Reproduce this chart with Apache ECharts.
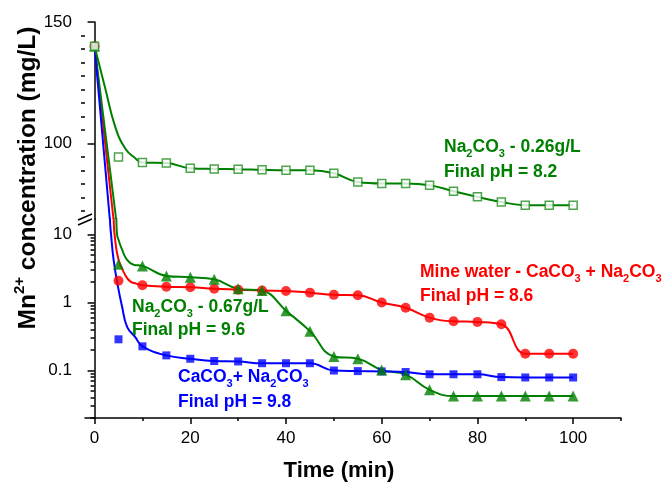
<!DOCTYPE html>
<html>
<head>
<meta charset="utf-8">
<script src="https://cdn.jsdelivr.net/npm/echarts@6/dist/echarts.min.js"></script>
<style>
html, body { margin: 0; padding: 0; background: #fff; }
#chart { width: 667px; height: 487px; }
</style>
</head>
<body>
<div id="chart"></div>
<script>
// sampling times (min)
var time = [0, 5, 10, 15, 20, 25, 30, 35, 40, 45, 50, 55, 60, 65, 70, 75, 80, 85, 90, 95, 100];

// measured Mn2+ (mg/L)
var na026    = [140, 94.5, 92.2, 92.0, 89.9, 89.6, 89.5, 89.2, 89.0, 89.0, 87.8, 84.2, 83.6, 83.6, 82.9, 80.4, 78.1, 76.0, 74.7, 74.7, 74.7];
var mineWater = [140, 2.1, 1.8, 1.71, 1.68, 1.6, 1.55, 1.5, 1.48, 1.4, 1.3, 1.28, 1.0, 0.84, 0.6, 0.53, 0.52, 0.48, 0.177, 0.177, 0.177];
var na067    = [140, 3.68, 3.47, 2.47, 2.36, 2.2, 1.6, 1.5, 0.76, 0.38, 0.161, 0.149, 0.102, 0.087, 0.052, 0.042, 0.042, 0.042, 0.042, 0.042, 0.042];
var caNa     = [140, 0.288, 0.227, 0.167, 0.149, 0.138, 0.136, 0.128, 0.128, 0.128, 0.1, 0.098, 0.097, 0.095, 0.088, 0.088, 0.088, 0.08, 0.079, 0.079, 0.079];

// fitted curves before t = 10 min [t, value]
var na026FitHead = [[0, 140], [2.2, 123], [4.3, 107], [6.4, 98], [8.5, 94]];
var mineFitHead  = [[0, 140], [3.95, 69], [4.0, 17], [4.18, 10], [5.0, 4.3], [6.4, 2.55], [7.45, 2.05], [8.7, 1.9]];
var na067FitHead = [[0, 140], [4.5, 69], [4.55, 17], [4.7, 10], [5.0, 8.4], [5.75, 6.0], [6.75, 4.3], [8.15, 3.6]];
var caNaFitHead  = [[0, 140], [3.18, 69], [3.22, 17], [3.45, 10], [3.97, 4.3], [4.9, 1.7], [5.75, 0.87], [6.8, 0.44], [8.5, 0.31]];

// axis ticks
var xMajor = [0, 20, 40, 60, 80, 100];
var xMinor = [10, 30, 50, 70, 90, 110];
var upperMajor = [100, 150];
var upperMinor = [72.22, 77.78, 83.33, 88.89, 94.44, 105.56, 111.11, 116.67, 122.22, 127.78, 133.33, 138.89, 144.44];
var lowerMajor = [0.1, 1, 10];
var lowerMinor = [0.02, 0.03, 0.04, 0.05, 0.06, 0.07, 0.08, 0.09, 0.2, 0.3, 0.4, 0.5, 0.6, 0.7, 0.8, 0.9, 2, 3, 4, 5, 6, 7, 8, 9];

var UPPER_MIN = 69, UPPER_MAX = 150, LOWER_MIN = 0.02, LOWER_MAX = 17;
var FONT = '"Liberation Sans", Arial, sans-serif';
var GREEN = '#008000', RED = '#ff0000', BLUE = '#0000ff';

function pairs(vals) {
    return time.map(function (t, i) { return [t, vals[i]]; });
}
function fit(head, vals) {
    return head.concat(time.slice(2).map(function (t, i) { return [t, vals[i + 2]]; }));
}
function inUpper(p) { return p[1] >= UPPER_MIN; }

var dom = document.getElementById('chart');
var myChart = echarts.init(dom, null, { renderer: 'canvas' });

var axisLine = { show: true, lineStyle: { color: '#000', width: 1.5 } };
var tickStyle = { color: '#000', width: 1.5 };
var labelStyle = { color: '#000', fontSize: 17, fontFamily: FONT };

function lineSeries(data, color, xi, yi, smooth) {
    return {
        type: 'line', xAxisIndex: xi, yAxisIndex: yi, data: data,
        showSymbol: false, symbol: 'none', smooth: smooth || false,
        clip: true, lineStyle: { color: color, width: 2 }, silent: true, z: 2
    };
}
function dotSeries(data, xi, yi, symbol, size, itemStyle) {
    return {
        type: 'scatter', xAxisIndex: xi, yAxisIndex: yi, data: data,
        symbol: symbol, symbolSize: size, itemStyle: itemStyle, clip: true, silent: true, z: 3
    };
}

function rich(color) {
    return {
        b: { fontSize: 17.5, fontWeight: 'bold', fontFamily: FONT, fill: color },
        s: { fontSize: 11, fontWeight: 'bold', fontFamily: FONT, fill: color, padding: [14, 0, 0, 0] }
    };
}
function note(x, y, color, text) {
    return {
        type: 'text', x: x, y: y, z: 100,
        style: { text: text, rich: rich(color), fill: color, align: 'left', verticalAlign: 'middle' }
    };
}

option = {
    animation: false,
    backgroundColor: '#fff',
    grid: [
        { left: 85, right: 46, top: 22, height: 197 },
        { left: 85, right: 46, top: 219, height: 199 }
    ],
    xAxis: [
        { gridIndex: 0, type: 'value', min: -2, max: 110, show: false },
        {
            gridIndex: 1, type: 'value', min: -2, max: 110, position: 'bottom',
            axisLine: axisLine,
            axisTick: { show: true, customValues: xMajor, length: 6, lineStyle: tickStyle },
            axisLabel: Object.assign({ customValues: xMajor, margin: 12 }, labelStyle),
            splitLine: { show: false }
        },
        {
            gridIndex: 1, type: 'value', min: -2, max: 110, position: 'bottom',
            axisLine: { show: false },
            axisTick: { show: true, customValues: xMinor, length: 3, lineStyle: tickStyle },
            axisLabel: { show: false },
            splitLine: { show: false }
        }
    ],
    yAxis: [
        {
            gridIndex: 0, type: 'value', min: UPPER_MIN, max: UPPER_MAX, position: 'left',
            axisLine: axisLine,
            axisTick: { show: true, customValues: upperMajor, length: 7, lineStyle: tickStyle },
            axisLabel: Object.assign({ customValues: upperMajor, margin: 13 }, labelStyle),
            splitLine: { show: false }
        },
        {
            gridIndex: 0, type: 'value', min: UPPER_MIN, max: UPPER_MAX, position: 'left',
            axisLine: { show: false },
            axisTick: { show: true, customValues: upperMinor, length: 4, lineStyle: tickStyle },
            axisLabel: { show: false },
            splitLine: { show: false }
        },
        {
            gridIndex: 1, type: 'log', logBase: 10, min: LOWER_MIN, max: LOWER_MAX, position: 'left',
            axisLine: axisLine,
            axisTick: { show: true, customValues: lowerMajor, length: 7, lineStyle: tickStyle },
            axisLabel: Object.assign({
                customValues: lowerMajor, margin: 13,
                formatter: function (v) { return String(+Number(v).toPrecision(3)); }
            }, labelStyle),
            splitLine: { show: false }
        },
        {
            gridIndex: 1, type: 'log', logBase: 10, min: LOWER_MIN, max: LOWER_MAX, position: 'left',
            axisLine: { show: false },
            axisTick: { show: true, customValues: lowerMinor, length: 4, lineStyle: tickStyle },
            axisLabel: { show: false },
            splitLine: { show: false }
        }
    ],
    series: [
        // upper (linear) part
        lineSeries(fit(mineFitHead, mineWater).filter(inUpper), RED, 0, 0, false),
        lineSeries(fit(na067FitHead, na067).filter(inUpper), GREEN, 0, 0, false),
        lineSeries(fit(caNaFitHead, caNa).filter(inUpper), BLUE, 0, 0, false),
        lineSeries(fit(na026FitHead, na026), GREEN, 0, 0, 0.45),
        // lower (log) part
        lineSeries(fit(mineFitHead, mineWater), RED, 1, 2, 0.45),
        lineSeries(fit(na067FitHead, na067), GREEN, 1, 2, 0.45),
        lineSeries(fit(caNaFitHead, caNa), BLUE, 1, 2, 0.45),
        dotSeries(pairs(caNa), 1, 2, 'rect', 8, { color: BLUE }),
        dotSeries(pairs(mineWater), 1, 2, 'circle', 10, { color: RED }),
        dotSeries(pairs(na067), 1, 2, 'triangle', 11, { color: GREEN }),
        dotSeries(pairs(caNa).filter(inUpper), 0, 0, 'rect', 8, { color: BLUE }),
        dotSeries(pairs(mineWater).filter(inUpper), 0, 0, 'circle', 10, { color: RED }),
        dotSeries(pairs(na067).filter(inUpper), 0, 0, 'triangle', 11, { color: GREEN }),
        dotSeries(pairs(na026), 0, 0, 'rect', 8, { color: '#fff', borderColor: '#1f8f1f', borderWidth: 1.5 })
    ],
    graphic: [
        // axis break
        { type: 'polygon', z: 100, shape: { points: [[78, 220], [92, 214], [92, 219], [78, 225]] }, style: { fill: '#fff' } },
        { type: 'line', z: 101, shape: { x1: 78, y1: 220, x2: 92, y2: 214 }, style: { stroke: '#000', lineWidth: 1.5 } },
        { type: 'line', z: 101, shape: { x1: 78, y1: 225, x2: 92, y2: 219 }, style: { stroke: '#000', lineWidth: 1.5 } },
        // axis titles
        {
            type: 'text', x: 28, y: 178, rotation: Math.PI / 2, z: 100,
            style: {
                text: '{b|Mn}{p|2+}{b| concentration (mg/L)}', align: 'center', verticalAlign: 'middle',
                rich: {
                    b: { fontSize: 24.5, fontWeight: 'bold', fontFamily: FONT, fill: '#000' },
                    p: { fontSize: 15, fontWeight: 'bold', fontFamily: FONT, fill: '#000', padding: [0, 0, 16, 0] }
                }
            }
        },
        {
            type: 'text', x: 339, y: 471, z: 100,
            style: { text: 'Time (min)', font: 'bold 22px ' + FONT, fill: '#000', align: 'center', verticalAlign: 'middle' }
        },
        // annotations
        note(444, 147, GREEN, '{b|Na}{s|2}{b|CO}{s|3}{b| - 0.26g/L}'),
        note(444, 172, GREEN, '{b|Final pH = 8.2}'),
        note(420, 272, RED, '{b|Mine water - CaCO}{s|3}{b| + Na}{s|2}{b|CO}{s|3}'),
        note(420, 296, RED, '{b|Final pH = 8.6}'),
        note(132, 307, GREEN, '{b|Na}{s|2}{b|CO}{s|3}{b| - 0.67g/L}'),
        note(132, 330, GREEN, '{b|Final pH = 9.6}'),
        note(178, 377, BLUE, '{b|CaCO}{s|3}{b|+ Na}{s|2}{b|CO}{s|3}'),
        note(178, 402, BLUE, '{b|Final pH = 9.8}')
    ]
};

if (option && typeof option === 'object') {
    myChart.setOption(option, true);
}
</script>
</body>
</html>
